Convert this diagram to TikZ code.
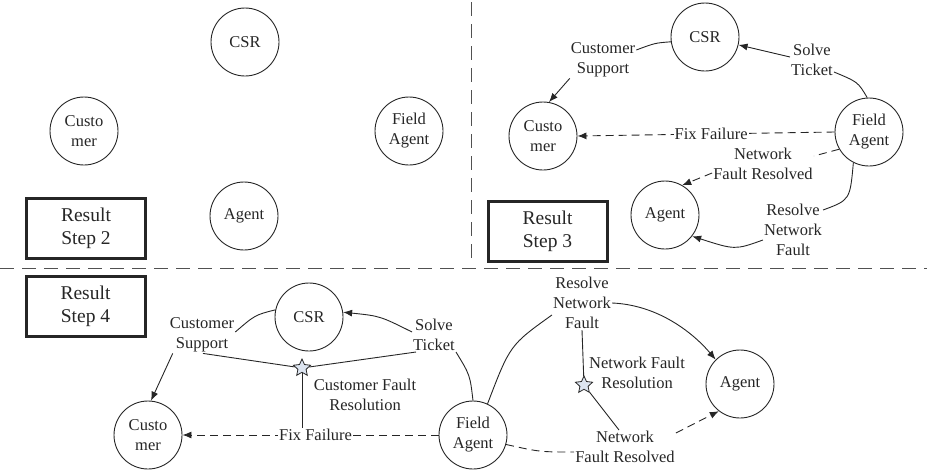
\documentclass[tikz,border=0pt]{standalone}
\usepackage{fontspec}
\setmainfont{Liberation Serif}
\usetikzlibrary{arrows.meta,shapes.geometric}
\definecolor{ink}{HTML}{262626}
\definecolor{starfill}{HTML}{DCE4F0}
\tikzset{
  base/.style={font=\fontsize{16.5}{20}\selectfont, text=ink},
  actor/.style={base, circle, draw=ink, line width=0.9pt, minimum size=68pt, inner sep=0pt, align=center},
  stepbox/.style={font=\fontsize{19.5}{23}\selectfont, text=ink, draw=ink, line width=3pt, minimum width=119pt, minimum height=60pt, align=center, inner sep=2pt},
  lbl/.style={base, align=center, inner sep=1pt},
  flow/.style={draw=ink, line width=0.9pt},
  arr/.style={flow, -{Latex[length=9pt,width=7pt]}},
  dashflow/.style={flow, dash pattern=on 8pt off 5pt},
  dasharr/.style={dashflow, -{Latex[length=9pt,width=7pt]}},
  divider/.style={draw=ink!80, line width=1pt, dash pattern=on 14pt off 8pt},
  faultstar/.style={star, star points=5, star point ratio=2.1, draw=ink, fill=starfill, line width=0.8pt, minimum size=18pt, inner sep=0pt},
}
\begin{document}
\begin{tikzpicture}[x=1pt,y=-1pt]
\useasboundingbox (0,0) rectangle (927,472);

% panel dividers
\draw[divider] (471.5,2) -- (471.5,263);
\draw[divider] (0,268) -- (927,268);

% ---- Step 2: actors only ----
\node[actor] (csrA) at (245,42) {CSR};
\node[actor] (custA) at (84,131) {Custo\\mer};
\node[actor] (faA) at (409,131) {Field\\Agent};
\node[actor] (agA) at (244,216) {Agent};
\node[stepbox] (stepA) at (86,228.5) {Result\\Step 2};

% ---- Step 3 ----
\node[actor] (csrB) at (705,37) {CSR};
\node[actor] (custB) at (543,136) {Custo\\mer};
\node[actor] (faB) at (869,132) {Field\\Agent};
\node[actor] (agB) at (665,215) {Agent};
\node[stepbox] (stepB) at (547.5,231.5) {Result\\Step 3};

\node[lbl] (supB) at (603,60) {Customer\\Support};
\node[lbl] (solB) at (812,60) {Solve\\Ticket};
\node[lbl] (nfrB) at (763,164) {Network\\Fault Resolved};
\node[lbl] (rnfB) at (793,230) {Resolve\\Network\\Fault};

\draw[flow] (csrB.188) .. controls (655,43) .. ([yshift=10pt]supB.east);
\draw[arr] (supB.south west) -- (custB.80);
\draw[flow] (faB.93) .. controls (858,82) .. ([yshift=-12pt]solB.east);
\draw[arr] ([yshift=3pt]solB.west) -- (csrB);
\draw[dasharr] (faB.west) -- node[lbl, fill=white, pos=0.48] (ffB) {Fix Failure} (custB.east);
\draw[dashflow] (faB.210) -- ([yshift=8pt]nfrB.east);
\draw[dasharr] ([yshift=-9pt]nfrB.west) -- (agB.60);
\draw[flow] (faB.243) .. controls (850,200) .. ([yshift=20pt]rnfB.east);
\draw[arr] ([yshift=-10pt]rnfB.west) .. controls (735,250) .. (agB.-38);

% ---- Step 4 ----
\node[actor] (csrC) at (309,317) {CSR};
\node[actor] (custC) at (148,435) {Custo\\mer};
\node[actor] (faC) at (473,435) {Field\\Agent};
\node[actor] (agC) at (740,384) {Agent};
\node[stepbox] (stepC) at (85.5,306) {Result\\Step 4};

\node[lbl] (supC) at (202,335) {Customer\\Support};
\node[lbl] (solC) at (434,335) {Solve\\Ticket};
\node[faultstar] (starC) at (302,368) {};
\node[lbl] (cfrC) at (365,395) {Customer Fault\\Resolution};
\node[lbl] (rnfC) at (582,303) {Resolve\\Network\\Fault};
\node[faultstar] (starD) at (584,385) {};
\node[lbl] (nfresC) at (637,373) {Network Fault\\Resolution};
\node[lbl] (nfrC) at (625,447) {Network\\Fault Resolved};

\draw[flow] (csrC.168) .. controls (255,315) .. ([yshift=3pt]supC.east);
\draw[arr] ([xshift=4pt]supC.south west) -- (custC.85);
\draw[flow] (faC.north) .. controls (470,375) .. (solC.south east);
\draw[arr] ([yshift=3pt]solC.west) .. controls (380,316) .. (csrC.8);
\draw[dasharr] (faC.west) -- node[lbl, fill=white, pos=0.48] (ffC) {Fix Failure} (custC.east);
\draw[flow] (starC) -- ([xshift=1pt]supC.south);
\draw[flow] (starC) -- ([xshift=4pt]solC.south west);
\draw[flow] (starC) -- (starC |- ffC.north);

\draw[flow] (faC.65) .. controls (510,345) .. ([yshift=-12pt]rnfC.west);
\draw[arr] (rnfC.east) .. controls (660,305) and (695,335) .. (agC.135);
\draw[flow] (rnfC.south) -- (starD);
\draw[flow] (starD) -- ([xshift=-6pt]nfrC.north);
\draw[dashflow] (faC.-16) .. controls (540,452) .. ([yshift=-5pt]nfrC.west);
\draw[dasharr] ([yshift=14pt]nfrC.east) -- (agC.232);
\end{tikzpicture}
\end{document}
